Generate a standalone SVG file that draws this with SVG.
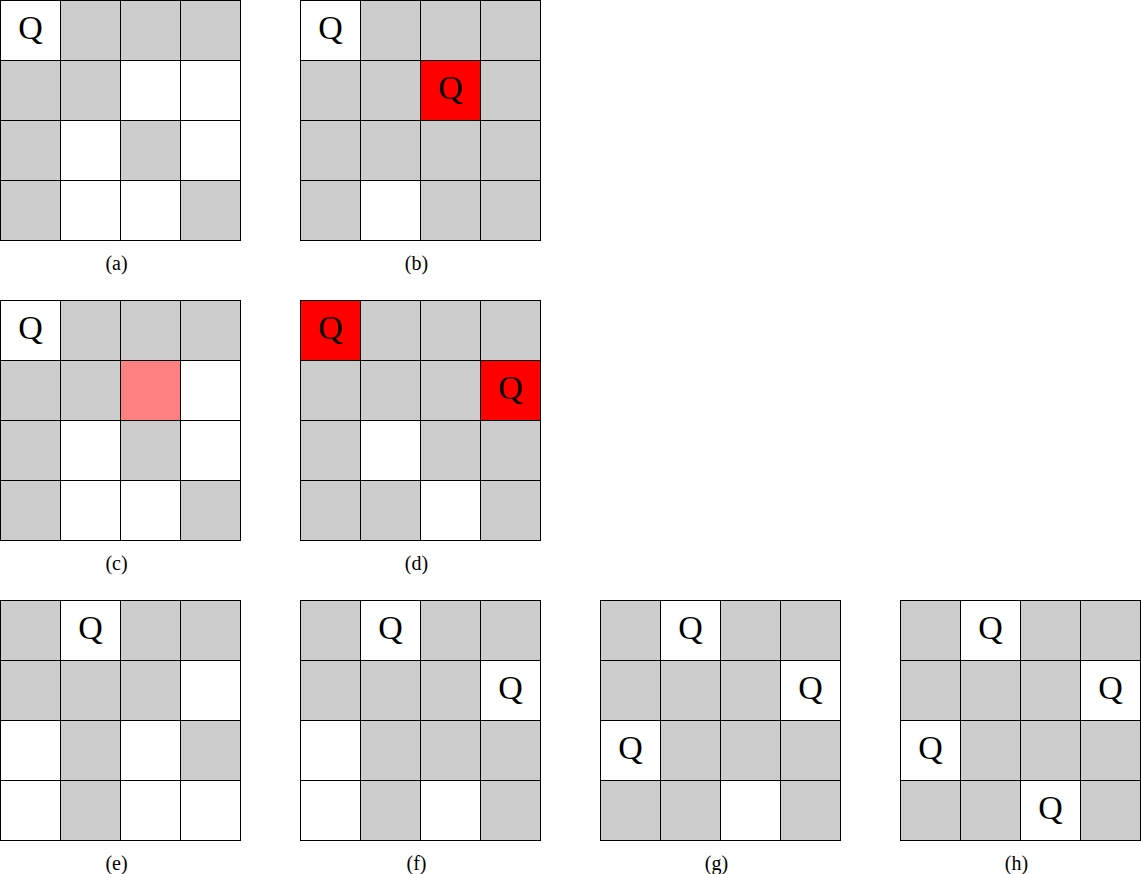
<svg xmlns="http://www.w3.org/2000/svg" width="1141" height="874" viewBox="0 0 1141 874">
<style>
.g{fill:#cccccc;stroke:#000;stroke-width:1}
.w{fill:#ffffff;stroke:#000;stroke-width:1}
.r{fill:#ff0000;stroke:#000;stroke-width:1}
.p{fill:#ff8080;stroke:#000;stroke-width:1}
.q{font-family:"Liberation Serif",serif;font-size:34px;text-anchor:middle;fill:#000}
.l{font-family:"Liberation Serif",serif;font-size:20px;text-anchor:middle;fill:#000}
</style>
<rect width="1141" height="874" fill="#fff"/>
<!-- (a) -->
<g id="board-a" transform="translate(0.5,0.5)">
<rect class="w" x="0" y="0" width="60" height="60"/><rect class="g" x="60" y="0" width="60" height="60"/><rect class="g" x="120" y="0" width="60" height="60"/><rect class="g" x="180" y="0" width="60" height="60"/>
<rect class="g" x="0" y="60" width="60" height="60"/><rect class="g" x="60" y="60" width="60" height="60"/><rect class="w" x="120" y="60" width="60" height="60"/><rect class="w" x="180" y="60" width="60" height="60"/>
<rect class="g" x="0" y="120" width="60" height="60"/><rect class="w" x="60" y="120" width="60" height="60"/><rect class="g" x="120" y="120" width="60" height="60"/><rect class="w" x="180" y="120" width="60" height="60"/>
<rect class="g" x="0" y="180" width="60" height="60"/><rect class="w" x="60" y="180" width="60" height="60"/><rect class="w" x="120" y="180" width="60" height="60"/><rect class="g" x="180" y="180" width="60" height="60"/>
<text class="q" x="30" y="38">Q</text>
<text class="l" x="116" y="269">(a)</text>
</g>
<!-- (b) -->
<g id="board-b" transform="translate(300.5,0.5)">
<rect class="w" x="0" y="0" width="60" height="60"/><rect class="g" x="60" y="0" width="60" height="60"/><rect class="g" x="120" y="0" width="60" height="60"/><rect class="g" x="180" y="0" width="60" height="60"/>
<rect class="g" x="0" y="60" width="60" height="60"/><rect class="g" x="60" y="60" width="60" height="60"/><rect class="r" x="120" y="60" width="60" height="60"/><rect class="g" x="180" y="60" width="60" height="60"/>
<rect class="g" x="0" y="120" width="60" height="60"/><rect class="g" x="60" y="120" width="60" height="60"/><rect class="g" x="120" y="120" width="60" height="60"/><rect class="g" x="180" y="120" width="60" height="60"/>
<rect class="g" x="0" y="180" width="60" height="60"/><rect class="w" x="60" y="180" width="60" height="60"/><rect class="g" x="120" y="180" width="60" height="60"/><rect class="g" x="180" y="180" width="60" height="60"/>
<text class="q" x="30" y="38">Q</text><text class="q" x="150" y="98">Q</text>
<text class="l" x="116" y="269">(b)</text>
</g>
<!-- (c) -->
<g id="board-c" transform="translate(0.5,300.5)">
<rect class="w" x="0" y="0" width="60" height="60"/><rect class="g" x="60" y="0" width="60" height="60"/><rect class="g" x="120" y="0" width="60" height="60"/><rect class="g" x="180" y="0" width="60" height="60"/>
<rect class="g" x="0" y="60" width="60" height="60"/><rect class="g" x="60" y="60" width="60" height="60"/><rect class="p" x="120" y="60" width="60" height="60"/><rect class="w" x="180" y="60" width="60" height="60"/>
<rect class="g" x="0" y="120" width="60" height="60"/><rect class="w" x="60" y="120" width="60" height="60"/><rect class="g" x="120" y="120" width="60" height="60"/><rect class="w" x="180" y="120" width="60" height="60"/>
<rect class="g" x="0" y="180" width="60" height="60"/><rect class="w" x="60" y="180" width="60" height="60"/><rect class="w" x="120" y="180" width="60" height="60"/><rect class="g" x="180" y="180" width="60" height="60"/>
<text class="q" x="30" y="38">Q</text>
<text class="l" x="116" y="269">(c)</text>
</g>
<!-- (d) -->
<g id="board-d" transform="translate(300.5,300.5)">
<rect class="r" x="0" y="0" width="60" height="60"/><rect class="g" x="60" y="0" width="60" height="60"/><rect class="g" x="120" y="0" width="60" height="60"/><rect class="g" x="180" y="0" width="60" height="60"/>
<rect class="g" x="0" y="60" width="60" height="60"/><rect class="g" x="60" y="60" width="60" height="60"/><rect class="g" x="120" y="60" width="60" height="60"/><rect class="r" x="180" y="60" width="60" height="60"/>
<rect class="g" x="0" y="120" width="60" height="60"/><rect class="w" x="60" y="120" width="60" height="60"/><rect class="g" x="120" y="120" width="60" height="60"/><rect class="g" x="180" y="120" width="60" height="60"/>
<rect class="g" x="0" y="180" width="60" height="60"/><rect class="g" x="60" y="180" width="60" height="60"/><rect class="w" x="120" y="180" width="60" height="60"/><rect class="g" x="180" y="180" width="60" height="60"/>
<text class="q" x="30" y="38">Q</text><text class="q" x="210" y="98">Q</text>
<text class="l" x="116" y="269">(d)</text>
</g>
<!-- (e) -->
<g id="board-e" transform="translate(0.5,600.5)">
<rect class="g" x="0" y="0" width="60" height="60"/><rect class="w" x="60" y="0" width="60" height="60"/><rect class="g" x="120" y="0" width="60" height="60"/><rect class="g" x="180" y="0" width="60" height="60"/>
<rect class="g" x="0" y="60" width="60" height="60"/><rect class="g" x="60" y="60" width="60" height="60"/><rect class="g" x="120" y="60" width="60" height="60"/><rect class="w" x="180" y="60" width="60" height="60"/>
<rect class="w" x="0" y="120" width="60" height="60"/><rect class="g" x="60" y="120" width="60" height="60"/><rect class="w" x="120" y="120" width="60" height="60"/><rect class="g" x="180" y="120" width="60" height="60"/>
<rect class="w" x="0" y="180" width="60" height="60"/><rect class="g" x="60" y="180" width="60" height="60"/><rect class="w" x="120" y="180" width="60" height="60"/><rect class="w" x="180" y="180" width="60" height="60"/>
<text class="q" x="90" y="38">Q</text>
<text class="l" x="116" y="269">(e)</text>
</g>
<!-- (f) -->
<g id="board-f" transform="translate(300.5,600.5)">
<rect class="g" x="0" y="0" width="60" height="60"/><rect class="w" x="60" y="0" width="60" height="60"/><rect class="g" x="120" y="0" width="60" height="60"/><rect class="g" x="180" y="0" width="60" height="60"/>
<rect class="g" x="0" y="60" width="60" height="60"/><rect class="g" x="60" y="60" width="60" height="60"/><rect class="g" x="120" y="60" width="60" height="60"/><rect class="w" x="180" y="60" width="60" height="60"/>
<rect class="w" x="0" y="120" width="60" height="60"/><rect class="g" x="60" y="120" width="60" height="60"/><rect class="g" x="120" y="120" width="60" height="60"/><rect class="g" x="180" y="120" width="60" height="60"/>
<rect class="w" x="0" y="180" width="60" height="60"/><rect class="g" x="60" y="180" width="60" height="60"/><rect class="w" x="120" y="180" width="60" height="60"/><rect class="g" x="180" y="180" width="60" height="60"/>
<text class="q" x="90" y="38">Q</text><text class="q" x="210" y="98">Q</text>
<text class="l" x="116" y="269">(f)</text>
</g>
<!-- (g) -->
<g id="board-g" transform="translate(600.5,600.5)">
<rect class="g" x="0" y="0" width="60" height="60"/><rect class="w" x="60" y="0" width="60" height="60"/><rect class="g" x="120" y="0" width="60" height="60"/><rect class="g" x="180" y="0" width="60" height="60"/>
<rect class="g" x="0" y="60" width="60" height="60"/><rect class="g" x="60" y="60" width="60" height="60"/><rect class="g" x="120" y="60" width="60" height="60"/><rect class="w" x="180" y="60" width="60" height="60"/>
<rect class="w" x="0" y="120" width="60" height="60"/><rect class="g" x="60" y="120" width="60" height="60"/><rect class="g" x="120" y="120" width="60" height="60"/><rect class="g" x="180" y="120" width="60" height="60"/>
<rect class="g" x="0" y="180" width="60" height="60"/><rect class="g" x="60" y="180" width="60" height="60"/><rect class="w" x="120" y="180" width="60" height="60"/><rect class="g" x="180" y="180" width="60" height="60"/>
<text class="q" x="90" y="38">Q</text><text class="q" x="210" y="98">Q</text><text class="q" x="30" y="158">Q</text>
<text class="l" x="116" y="269">(g)</text>
</g>
<!-- (h) -->
<g id="board-h" transform="translate(900.5,600.5)">
<rect class="g" x="0" y="0" width="60" height="60"/><rect class="w" x="60" y="0" width="60" height="60"/><rect class="g" x="120" y="0" width="60" height="60"/><rect class="g" x="180" y="0" width="60" height="60"/>
<rect class="g" x="0" y="60" width="60" height="60"/><rect class="g" x="60" y="60" width="60" height="60"/><rect class="g" x="120" y="60" width="60" height="60"/><rect class="w" x="180" y="60" width="60" height="60"/>
<rect class="w" x="0" y="120" width="60" height="60"/><rect class="g" x="60" y="120" width="60" height="60"/><rect class="g" x="120" y="120" width="60" height="60"/><rect class="g" x="180" y="120" width="60" height="60"/>
<rect class="g" x="0" y="180" width="60" height="60"/><rect class="g" x="60" y="180" width="60" height="60"/><rect class="w" x="120" y="180" width="60" height="60"/><rect class="g" x="180" y="180" width="60" height="60"/>
<text class="q" x="90" y="38">Q</text><text class="q" x="210" y="98">Q</text><text class="q" x="30" y="158">Q</text><text class="q" x="150" y="218">Q</text>
<text class="l" x="116" y="269">(h)</text>
</g>
</svg>
